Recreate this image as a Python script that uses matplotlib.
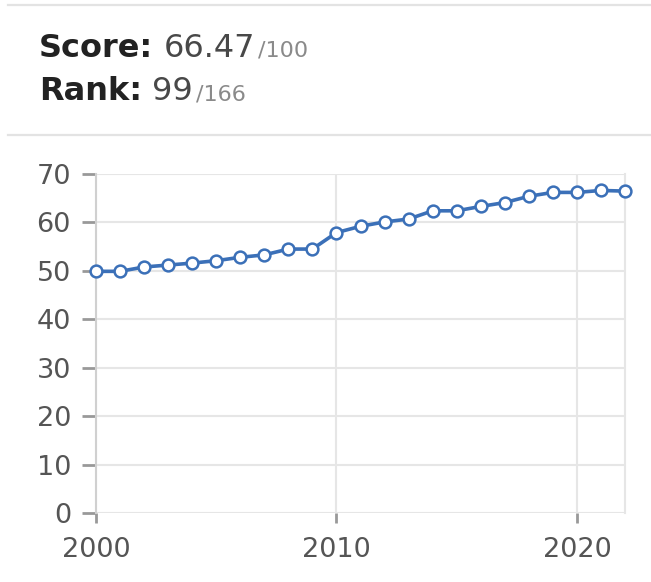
import matplotlib
matplotlib.use("Agg")
import matplotlib.pyplot as plt
from matplotlib.lines import Line2D

years = list(range(2000, 2023))
scores = [49.9, 49.9, 50.8, 51.2, 51.6, 52.1, 52.8, 53.3, 54.5, 54.5,
          57.9, 59.2, 60.1, 60.7, 62.4, 62.4, 63.3, 64.1, 65.4, 66.2,
          66.2, 66.6, 66.47]
y_ticks = [0, 10, 20, 30, 40, 50, 60, 70]
x_ticks = [2000, 2010, 2020]
score_text = "66.47"
score_max = "/100"
rank_text = "99"
rank_max = "/166"

plt.rcParams['font.family'] = ['DejaVu Sans']

W, H = 651, 582
fig = plt.figure(figsize=(W / 100, H / 100), dpi=100)
fig.patch.set_facecolor('white')

# separator lines
for yy in (5, 135):
    fig.add_artist(Line2D([8 / W, 1.0], [1 - yy / H, 1 - yy / H],
                          color='#e3e3e3', lw=1.6, transform=fig.transFigure))

# header text
fig.canvas.draw()
r = fig.canvas.get_renderer()


def header(label, value, maxv, ypix):
    t1 = fig.text(39 / W, 1 - ypix / H, label, fontsize=23, fontweight='bold',
                  color='#222222', va='baseline', ha='left')
    bb = t1.get_window_extent(r)
    t2 = fig.text((bb.x1 + 10) / W, 1 - ypix / H, value, fontsize=23,
                  color='#484848', va='baseline', ha='left')
    bb2 = t2.get_window_extent(r)
    fig.text((bb2.x1 + 3) / W, 1 - ypix / H, maxv, fontsize=16,
             color='#8a8a8a', va='baseline', ha='left')


header("Score:", score_text, score_max, 57)
header("Rank:", rank_text, rank_max, 100)

# chart
left, right = 96 / W, 625 / W
bottom, top = 1 - 513 / H, 1 - 174 / H
ax = fig.add_axes([left, bottom, right - left, top - bottom])
ax.set_xlim(2000, 2022)
ax.set_ylim(0, 70)
ax.set_yticks(y_ticks)
ax.set_xticks(x_ticks)
ax.grid(True, color='#e6e6e6', lw=1.5)
ax.set_axisbelow(True)
for s in ('top', 'bottom'):
    ax.spines[s].set_visible(False)
ax.spines['right'].set_color('#e6e6e6')
ax.spines['right'].set_linewidth(1.5)
ax.spines['left'].set_color('#d0d0d0')
ax.spines['left'].set_linewidth(1.5)
ax.tick_params(axis='both', colors='#999999', width=2,
               labelsize=19.5, labelcolor='#555555')
ax.tick_params(axis='y', length=10, pad=8)
ax.tick_params(axis='x', length=7.5, pad=10)

ax.plot(years, scores, color='#3b70b8', lw=2.6, marker='o', markersize=8.5,
        markerfacecolor='white', markeredgecolor='#3b70b8', markeredgewidth=1.8,
        clip_on=False, zorder=3)

fig.savefig("out.png", dpi=100, facecolor='white')
